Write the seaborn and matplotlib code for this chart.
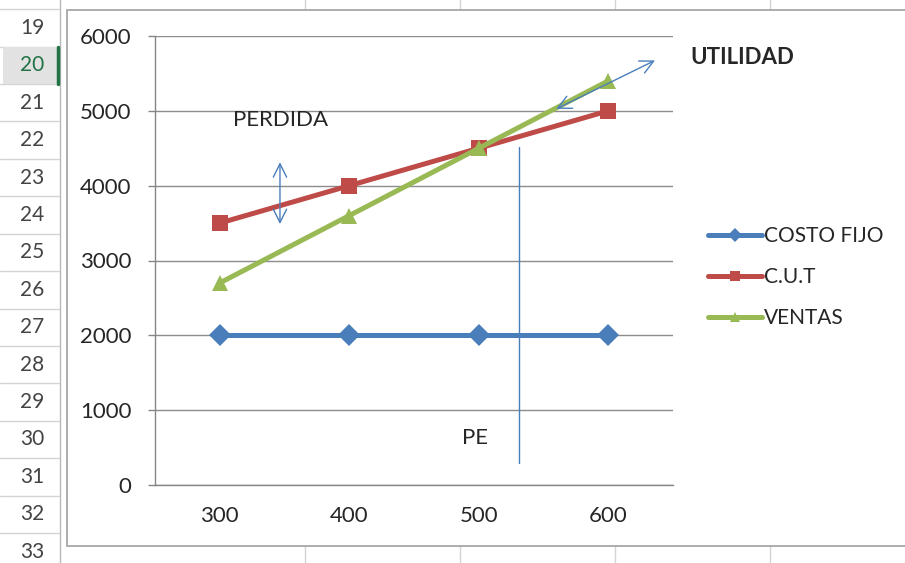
import pandas as pd
import matplotlib.pyplot as plt
import seaborn as sns
from matplotlib.patches import Rectangle
from matplotlib.lines import Line2D

sns.set_theme(style="white")
plt.rcParams["font.family"] = ["Lato", "DejaVu Sans"]

# ---------------------- DATA ---------------------- #
unidades = ["300", "400", "500", "600"]
costo_fijo = [2000, 2000, 2000, 2000]
cut = [3500, 4000, 4500, 5000]
ventas = [2700, 3600, 4500, 5400]
series = ["COSTO FIJO", "C.U.T", "VENTAS"]
y_ticks = [0, 1000, 2000, 3000, 4000, 5000, 6000]
filas = list(range(18, 34))

colores = {"COSTO FIJO": "#4a7ebb", "C.U.T": "#be4b48", "VENTAS": "#98b954"}
marcadores = {"COSTO FIJO": "D", "C.U.T": "s", "VENTAS": "^"}

df = pd.DataFrame({
    "idx": list(range(len(unidades))) * 3,
    "valor": costo_fijo + cut + ventas,
    "serie": [s for s in series for _ in unidades],
})

W, H = 905, 563
fig = plt.figure(figsize=(W / 100, H / 100), dpi=100)
fig.patch.set_facecolor("white")

def fx(px):
    return px / W

def fy(py):
    return 1 - py / H

FS = 16
texto = "#262626"

# ---------------------- SPREADSHEET BACKGROUND ---------------------- #
grid_col = "#d4d4d4"
for x in [305, 460, 615, 770]:
    fig.add_artist(Line2D([fx(x), fx(x)], [0, 1], color=grid_col, lw=1, zorder=0))
fig.add_artist(Line2D([fx(60), fx(60)], [0, 1], color="#b8b8b8", lw=1, zorder=0))

row_h = 37.4
for r in filas:
    yc = 28 + (r - 19) * row_h
    top = yc - row_h / 2
    if r == 20:
        fig.patches.append(Rectangle((fx(3), fy(top + row_h)), fx(57) - fx(3), row_h / H,
                                     transform=fig.transFigure, facecolor="#e2e2e2",
                                     edgecolor="none", zorder=0))
        fig.add_artist(Line2D([fx(58), fx(58)], [fy(top), fy(top + row_h)],
                              color="#217346", lw=2.5))
    fig.add_artist(Line2D([fx(0), fx(59)], [fy(top), fy(top)], color=grid_col, lw=1, zorder=0))
    fig.text(fx(32), fy(yc), str(r), ha="center", va="center", fontsize=15,
             color="#217346" if r == 20 else "#444444")

# chart area box
fig.patches.append(Rectangle((fx(67), fy(546)), 1 - fx(67) + 0.01, (546 - 10) / H,
                             transform=fig.transFigure, facecolor="white",
                             edgecolor="#a0a0a0", lw=1.2, zorder=1))

# ---------------------- CHART ---------------------- #
ax = fig.add_axes([fx(155), fy(485), fx(673) - fx(155), fy(36) - fy(485)])
ax.set_zorder(2)
ax.patch.set_alpha(0)

sns.lineplot(data=df, x="idx", y="valor", hue="serie", style="serie",
             palette=colores, markers=marcadores, dashes=False, linewidth=3.6,
             markersize=11, markeredgewidth=0, ax=ax)

ax.set_xlim(-0.5, 3.5)
ax.set_ylim(0, 6000)
ax.set_yticks(y_ticks)
ax.set_xticks(range(len(unidades)))
ax.set_xticklabels(unidades)
ax.set_xticks([i - 0.5 for i in range(len(unidades) + 1)], minor=True)
ax.tick_params(axis="x", which="major", length=0, pad=15, labelsize=FS, colors=texto)
ax.tick_params(axis="x", which="minor", length=5, width=1, color="#868686", direction="out")
ax.tick_params(axis="y", length=5, width=1, color="#868686", direction="out", pad=12,
               labelsize=FS, labelcolor=texto, left=True)
ax.set_xlabel("")
ax.set_ylabel("")
ax.grid(axis="y", color="#8c8c8c", lw=1)
ax.set_axisbelow(True)
for side in ["top", "right"]:
    ax.spines[side].set_visible(False)
for side in ["left", "bottom"]:
    ax.spines[side].set_color("#868686")
    ax.spines[side].set_linewidth(1)

# annotations
azul = "#4a7ebb"
ax.text(0.47, 4880, "PERDIDA", ha="center", va="center", fontsize=FS, color=texto)
ax.annotate("", xy=(0.465, 4350), xytext=(0.465, 3450),
            arrowprops=dict(arrowstyle="<->", color=azul, lw=1, mutation_scale=24))
ax.annotate("", xy=(3.38, 5690), xytext=(2.58, 5010), annotation_clip=False,
            arrowprops=dict(arrowstyle="<->", color=azul, lw=1, mutation_scale=24))
ax.plot([2.31, 2.31], [300, 4520], color=azul, lw=1)
ax.text(1.97, 630, "PE", ha="center", va="center", fontsize=FS, color=texto)
fig.text(fx(742), fy(57), "UTILIDAD", ha="center", va="center", fontsize=FS,
         fontweight="bold", color=texto)

handles, labels = ax.get_legend_handles_labels()
ax.legend(handles, labels, loc="center left", bbox_to_anchor=(fx(708), fy(277)),
          bbox_transform=fig.transFigure, frameon=False, fontsize=15,
          handlelength=2.6, handletextpad=0.1, labelspacing=1.0, markerscale=0.65,
          borderpad=0, borderaxespad=0)

fig.savefig("out.png", dpi=100)
